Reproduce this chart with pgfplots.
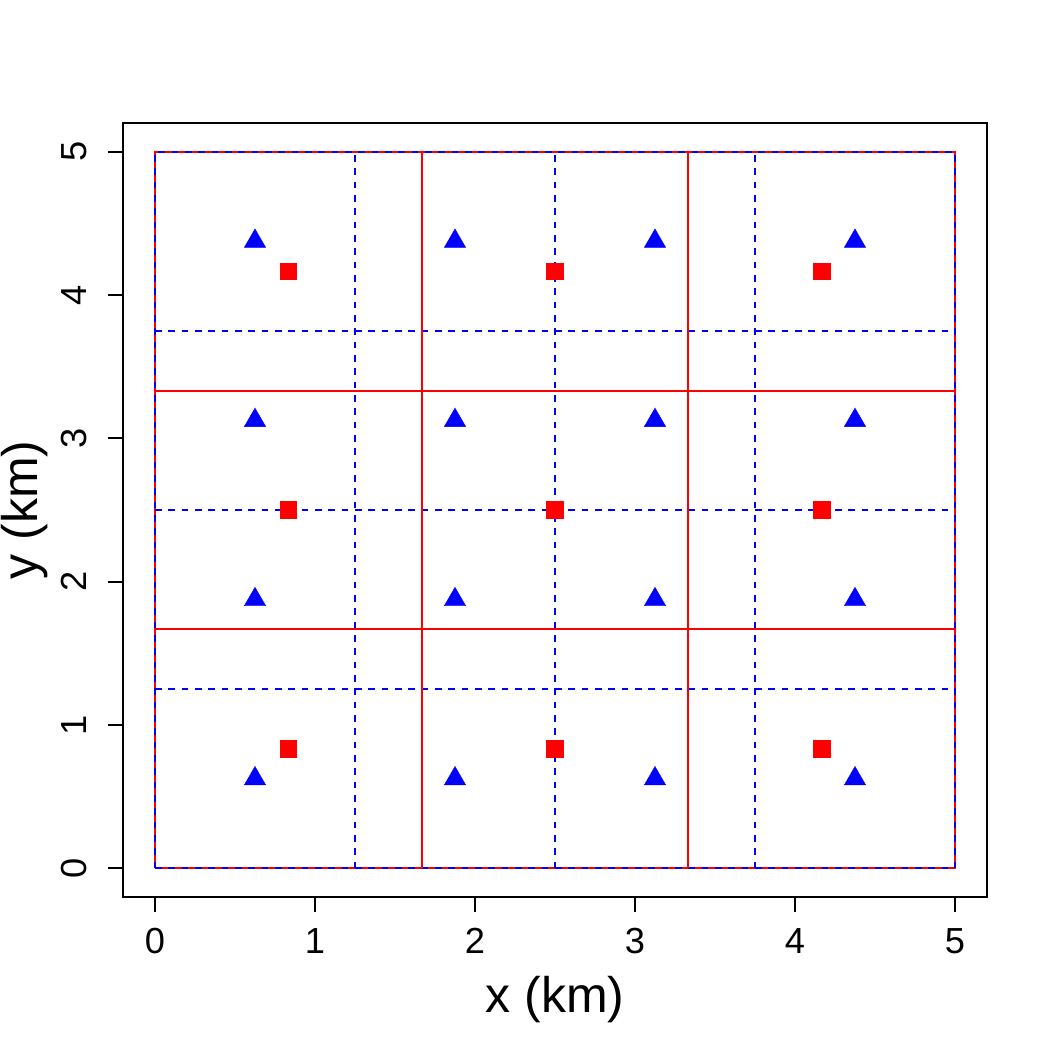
\documentclass[border=0pt]{standalone}
\usepackage{pgfplots}
\pgfplotsset{compat=1.18}
\usepackage{fontspec}
\setmainfont{Liberation Sans}
\begin{document}
\begin{tikzpicture}
\useasboundingbox (0,0) rectangle (504bp,504bp);
\begin{axis}[
  at={(59.04bp,73.44bp)}, anchor=south west,
  scale only axis, width=414.72bp, height=371.52bp,
  xmin=-0.2, xmax=5.2, ymin=-0.2, ymax=5.2,
  xtick={0,1,2,3,4,5}, ytick={0,1,2,3,4,5},
  xtick pos=bottom, ytick pos=left,
  tick align=outside, major tick length=7.2bp,
  every tick/.style={black, line width=0.9bp},
  axis line style={black, line width=0.9bp},
  /pgf/number format/assume math mode=true,
  tick label style={font=\fontsize{17.4bp}{20bp}\selectfont},
  xticklabel style={anchor=base, yshift=-20bp},
  yticklabel style={xshift=-10.5bp, rotate=90, anchor=base},
  label style={font=\fontsize{24bp}{28bp}\selectfont},
  xlabel={x (km)}, ylabel={y (km)},
  xlabel style={at={(axis description cs:0.5,-0.1486)}, anchor=base},
  ylabel style={at={(axis description cs:-0.0995,0.5)}, anchor=base, rotate=0},
  clip=false,
]
% red outer boundary
\addplot[red, line width=1bp] coordinates {(0,0) (5,0) (5,5) (0,5) (0,0)};
% blue dashed grid
\addplot[blue, line width=1bp, dash pattern=on 3.2bp off 3.2bp] coordinates {(0,0) (5,0) (5,5) (0,5) (0,0)};
\addplot[blue, line width=1bp, dash pattern=on 3.2bp off 3.2bp] coordinates {(1.25,0) (1.25,5)};
\addplot[blue, line width=1bp, dash pattern=on 3.2bp off 3.2bp] coordinates {(2.5,0) (2.5,5)};
\addplot[blue, line width=1bp, dash pattern=on 3.2bp off 3.2bp] coordinates {(3.75,0) (3.75,5)};
\addplot[blue, line width=1bp, dash pattern=on 3.2bp off 3.2bp] coordinates {(0,1.25) (5,1.25)};
\addplot[blue, line width=1bp, dash pattern=on 3.2bp off 3.2bp] coordinates {(0,2.5) (5,2.5)};
\addplot[blue, line width=1bp, dash pattern=on 3.2bp off 3.2bp] coordinates {(0,3.75) (5,3.75)};
% red interior grid
\addplot[red, line width=1bp] coordinates {(1.6667,0) (1.6667,5)};
\addplot[red, line width=1bp] coordinates {(3.3333,0) (3.3333,5)};
\addplot[red, line width=1bp] coordinates {(0,1.6667) (5,1.6667)};
\addplot[red, line width=1bp] coordinates {(0,3.3333) (5,3.3333)};
% blue triangles
\addplot[blue, only marks, mark=triangle*, mark size=5.9bp, mark options={solid, fill=blue, draw=blue, line width=0.2bp}] coordinates {
(0.625,0.625) (1.875,0.625) (3.125,0.625) (4.375,0.625)
(0.625,1.875) (1.875,1.875) (3.125,1.875) (4.375,1.875)
(0.625,3.125) (1.875,3.125) (3.125,3.125) (4.375,3.125)
(0.625,4.375) (1.875,4.375) (3.125,4.375) (4.375,4.375)};
% red squares
\addplot[red, only marks, mark=square*, mark size=4.0bp, mark options={solid, fill=red, draw=red, line width=0.2bp}] coordinates {
(0.8333,0.8333) (2.5,0.8333) (4.1667,0.8333)
(0.8333,2.5) (2.5,2.5) (4.1667,2.5)
(0.8333,4.1667) (2.5,4.1667) (4.1667,4.1667)};
\end{axis}
\end{tikzpicture}
\end{document}
